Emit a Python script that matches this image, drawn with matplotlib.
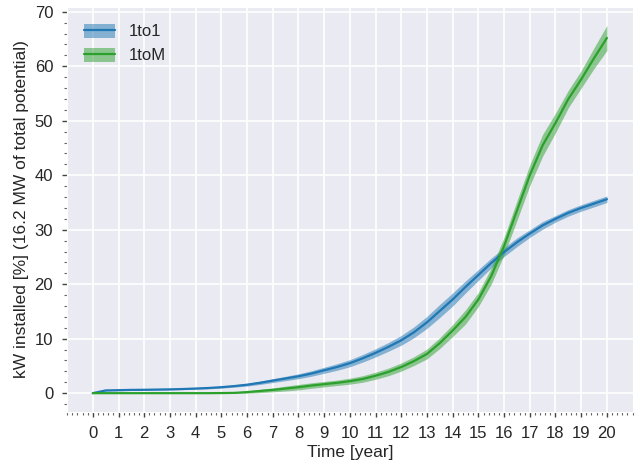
"""
Installed capacity over time for the 1to1 and 1toM scenarios,
mean line with a shaded spread band.
"""

import matplotlib
matplotlib.use('Agg')
import matplotlib.pyplot as plt
from matplotlib.patches import Patch
from matplotlib.ticker import MultipleLocator
import numpy as np
import seaborn as sns


YEARS = [
    0, 0.5, 1, 1.5, 2, 2.5, 3, 3.5, 4, 4.5, 5, 5.5, 6, 6.5, 7, 7.5, 8, 8.5,
    9, 9.5, 10, 10.5, 11, 11.5, 12, 12.5, 13, 13.5, 14, 14.5, 15, 15.5, 16,
    16.5, 17, 17.5, 18, 18.5, 19, 19.5, 20]

ONE_TO_ONE = [
    0.0, 0.5, 0.55, 0.6, 0.62, 0.66, 0.7, 0.76, 0.85, 0.95, 1.1, 1.3, 1.55,
    1.9, 2.3, 2.7, 3.1, 3.6, 4.2, 4.8, 5.5, 6.4, 7.4, 8.5, 9.7, 11.2, 13.0,
    15.1, 17.2, 19.5, 21.7, 23.9, 25.9, 27.7, 29.3, 30.8, 32.0, 33.1, 34.0,
    34.8, 35.6]

ONE_TO_ONE_SPREAD = [
    0.05, 0.1, 0.1, 0.1, 0.1, 0.1, 0.1, 0.1, 0.12, 0.15, 0.18, 0.2, 0.25,
    0.3, 0.35, 0.4, 0.45, 0.5, 0.55, 0.6, 0.65, 0.7, 0.75, 0.8, 0.9, 1.0,
    1.1, 1.2, 1.2, 1.1, 1.0, 0.9, 0.8, 0.8, 0.7, 0.7, 0.6, 0.6, 0.6, 0.6,
    0.6]

ONE_TO_MANY = [
    0.0, 0.0, 0.0, 0.0, 0.0, 0.0, 0.0, 0.0, 0.0, 0.0, 0.02, 0.05, 0.2, 0.4,
    0.6, 0.85, 1.1, 1.4, 1.65, 1.9, 2.2, 2.6, 3.2, 3.9, 4.8, 5.9, 7.2, 9.2,
    11.5, 14.0, 17.2, 21.5, 27.0, 33.5, 40.0, 45.5, 49.6, 54.0, 57.6, 61.5,
    65.2]

ONE_TO_MANY_SPREAD = [
    0.0, 0.0, 0.0, 0.0, 0.0, 0.0, 0.0, 0.0, 0.0, 0.0, 0.05, 0.1, 0.2, 0.3,
    0.35, 0.45, 0.5, 0.5, 0.5, 0.5, 0.55, 0.6, 0.65, 0.7, 0.75, 0.8, 0.9,
    1.0, 1.1, 1.3, 1.3, 1.5, 1.6, 1.8, 1.9, 2.0, 1.8, 1.6, 1.6, 1.9, 2.3]

SERIES = [
    ('1to1', ONE_TO_ONE, ONE_TO_ONE_SPREAD, '#1f77b4'),
    ('1toM', ONE_TO_MANY, ONE_TO_MANY_SPREAD, '#2ca02c'),
]


def main():

    sns.set_style('darkgrid', {'xtick.bottom': True, 'ytick.left': True})
    plt.rcParams['font.family'] = ['Liberation Sans', 'DejaVu Sans']

    fig, axes = plt.subplots(figsize=(6.39, 4.68), dpi=100)
    fig.subplots_adjust(left=0.105, right=0.99, top=0.985, bottom=0.12)

    years = np.array(YEARS)
    handles = []

    for name, values, spread, color in SERIES:
        values = np.array(values)
        spread = np.array(spread)
        axes.fill_between(
            years, values - spread, values + spread, color=color,
            alpha=0.5, linewidth=0)
        line, = axes.plot(years, values, color=color, linewidth=1.6)
        handles.append(
            ((Patch(facecolor=color, alpha=0.5, linewidth=0), line), name))

    axes.legend(
        [h for h, _ in handles], [n for _, n in handles], loc='upper left',
        fontsize=12, frameon=False, handlelength=1.9, handleheight=0.9,
        borderaxespad=0.6)

    axes.set_xticks(range(0, 21))
    axes.xaxis.set_minor_locator(MultipleLocator(0.2))
    axes.yaxis.set_major_locator(MultipleLocator(10))
    axes.yaxis.set_minor_locator(MultipleLocator(2))
    axes.tick_params(axis='both', which='major', labelsize=12, length=3.5,
                     width=1, color='#444444', pad=6.5)
    axes.tick_params(axis='both', which='minor', length=2, width=0.8,
                     color='#666666')
    axes.grid(which='major', linewidth=1.2)
    axes.grid(which='minor', visible=False)

    axes.set_xlabel('Time [year]', fontsize=12.5, labelpad=3)
    axes.set_ylabel('kW installed [%] (16.2 MW of total potential)',
                    fontsize=12.5)

    fig.savefig('out.png', dpi=100)


if __name__ == '__main__':
    main()
